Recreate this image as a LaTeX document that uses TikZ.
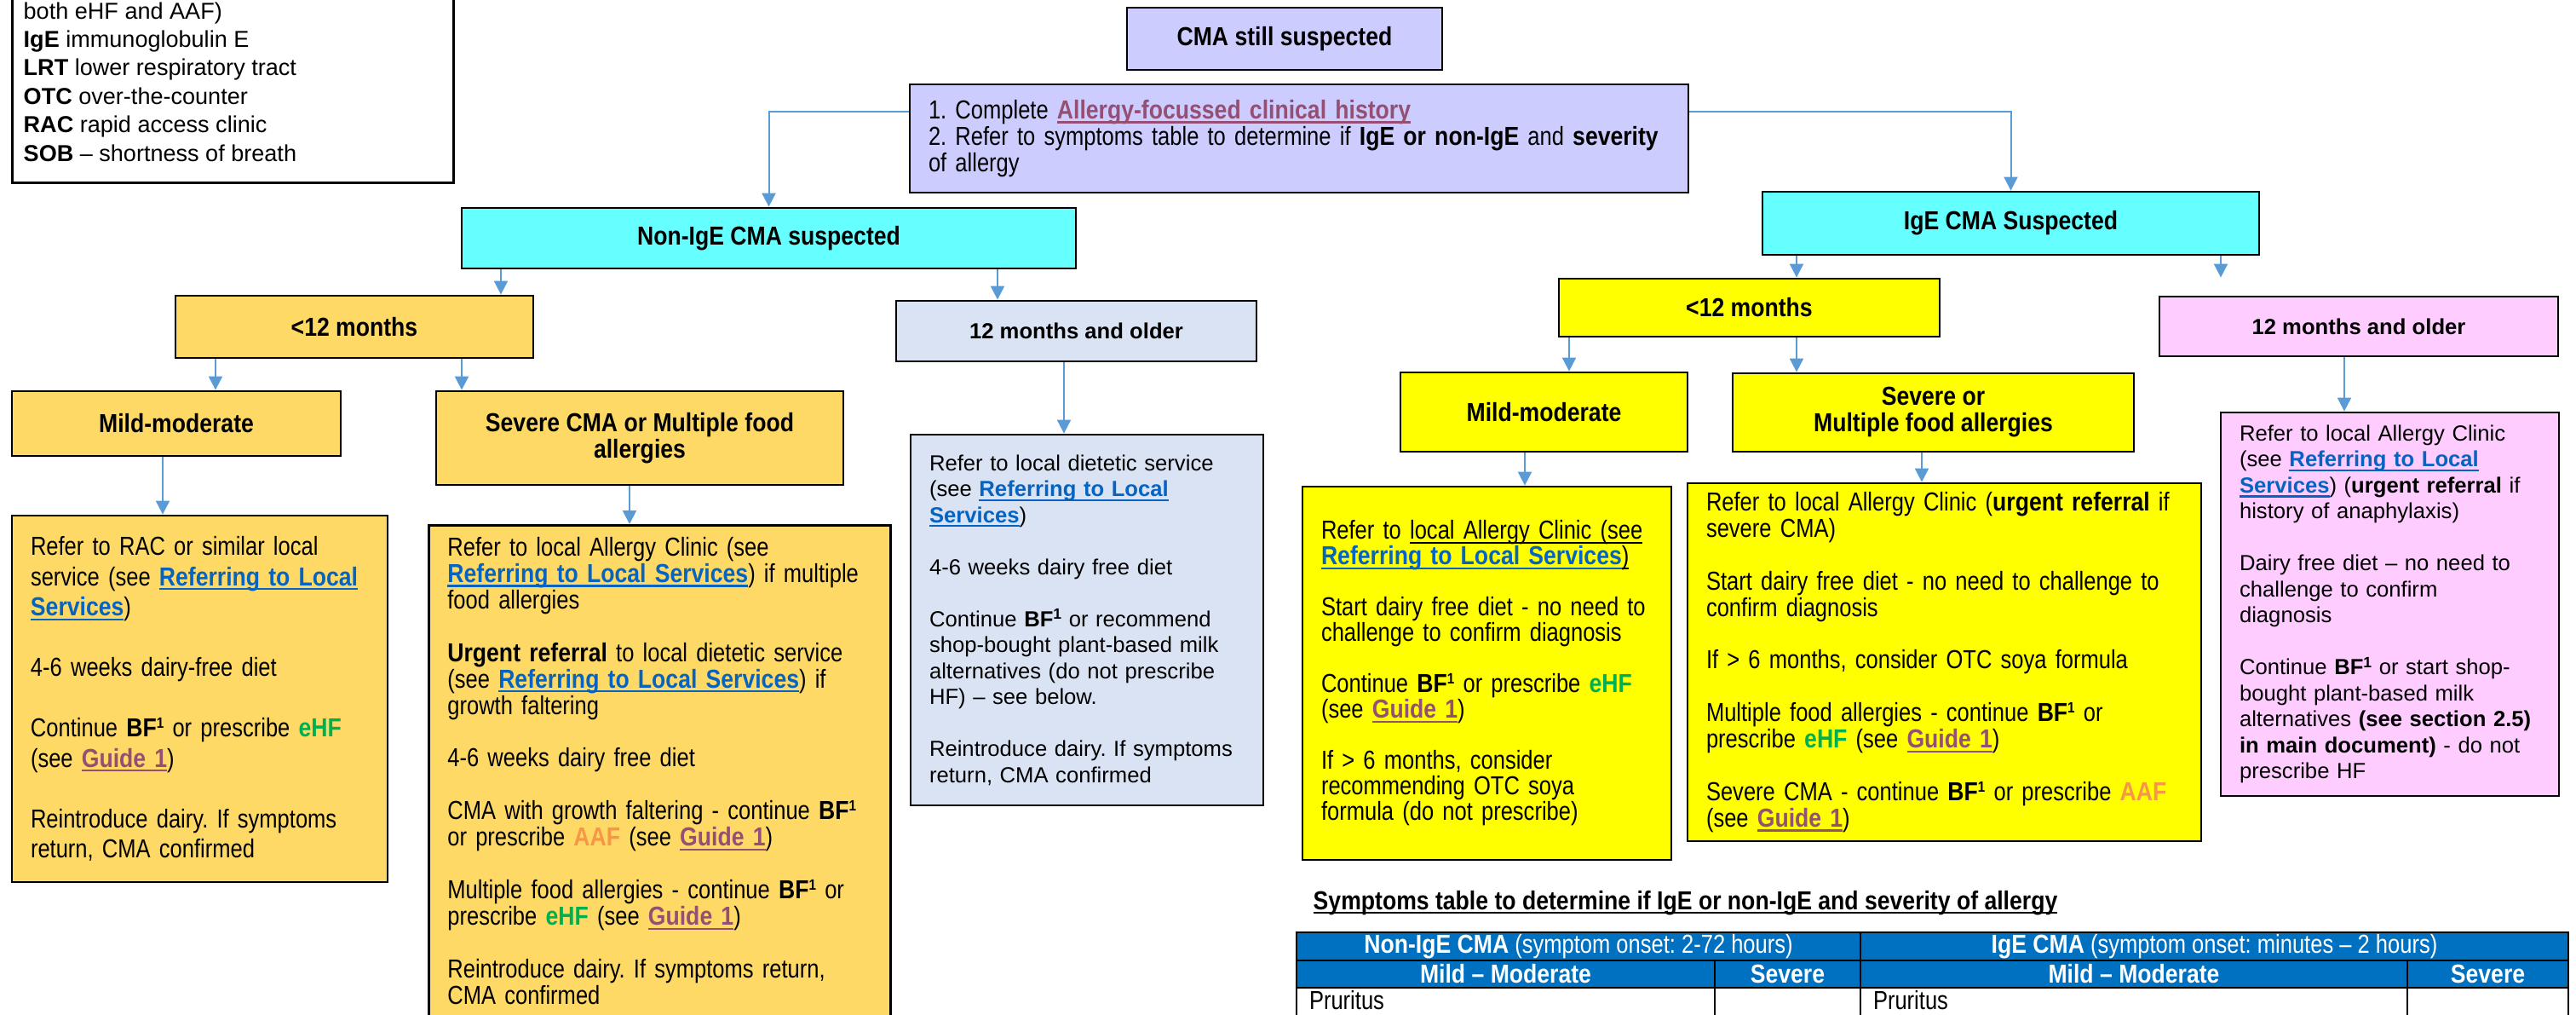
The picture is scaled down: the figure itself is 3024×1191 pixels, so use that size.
\documentclass[tikz,border=0pt]{standalone}
\usepackage{fontspec}
\setmainfont{Liberation Sans}
\newfontfamily\narrowfont{Liberation Sans}[FakeStretch=0.835, BoldFeatures={FakeStretch=0.87}]
\usetikzlibrary{positioning,calc,arrows.meta}

\definecolor{lav}{HTML}{CCCCFF}
\definecolor{aqua}{HTML}{66FFFF}
\definecolor{gold}{HTML}{FFD966}
\definecolor{mist}{HTML}{DAE3F3}
\definecolor{lemon}{HTML}{FFFF00}
\definecolor{rose}{HTML}{FFCCFF}
\definecolor{linkblue}{HTML}{0563C1}
\definecolor{guidepurple}{HTML}{954F72}
\definecolor{ehfgreen}{HTML}{00B050}
\definecolor{aaforange}{HTML}{F79646}
\definecolor{arrowblue}{HTML}{5B9BD5}
\definecolor{tblue}{HTML}{0070C0}

% fonts
\newcommand{\nhead}{\narrowfont\bfseries\fontsize{8.7pt}{8.8pt}\selectfont}
\newcommand{\whead}{\bfseries\fontsize{7.3pt}{8.7pt}\selectfont}
\newcommand{\ntext}[1]{\narrowfont\fontsize{8.7pt}{#1}\selectfont}
\newcommand{\wtext}{\fontsize{7.3pt}{8.68pt}\selectfont}
\newcommand{\skipline}{\\[\baselineskip]}

% underline and coloured words
\newsavebox{\ulbox}
\newcommand{\ulc}[1]{\leavevmode\sbox{\ulbox}{#1}\rlap{\rule[-1.5pt]{\wd\ulbox}{0.65pt}}\usebox{\ulbox}}
\newcommand{\reflink}[1]{{\color{linkblue}\bfseries\ulc{#1}}}
\newcommand{\guide}{{\color{guidepurple}\bfseries\ulc{Guide 1}}}
\newcommand{\ehf}{{\color{ehfgreen}\bfseries eHF}}
\newcommand{\aaf}{{\color{aaforange}\bfseries AAF}}
\newcommand{\bfone}{\textbf{BF}\smash{\raisebox{0.62ex}{\fontsize{5pt}{5pt}\selectfont\bfseries 1}}}

\begin{document}
\frenchspacing
\begin{tikzpicture}[x=0.1mm,y=-0.1mm,
    box/.style={draw=black, line width=0.28mm, inner sep=0pt},
    headbox/.style={box, font=\nhead, align=center},
    wideheadbox/.style={box, font=\whead, align=center},
    textbox/.style={box, align=left, execute at begin node={\leftskip=2.2mm\hyphenpenalty=10000\exhyphenpenalty=10000\lineskiplimit=-5pt\relax}},
    thead/.style={draw=black, line width=0.2mm, fill=tblue, text=white, inner sep=0pt, anchor=north west, font=\ntext{9pt}},
    tcell/.style={draw=black, line width=0.2mm, inner xsep=1.5mm, inner ysep=0.4mm, anchor=north west, align=left, text height=2.1mm, text depth=10mm, font=\ntext{9pt}},
    conn/.style={arrowblue, line width=0.2mm, -{Triangle[width=1.6mm,length=1.6mm]}}]

\useasboundingbox (0,0) rectangle (3024,1191);

% legend
\node[box, fill=white, anchor=south west, minimum width=51.8mm, minimum height=32mm] (legend) at (13,216) {};
\node[anchor=south west, inner sep=0pt, align=left, font=\fontsize{7.7pt}{9.5pt}\selectfont] (legendtext) at (27,190)
    {both eHF and AAF)\\ \textbf{IgE} immunoglobulin E\\ \textbf{LRT} lower respiratory tract\\
     \textbf{OTC} over-the-counter\\ \textbf{RAC} rapid access clinic\\ \textbf{SOB} – shortness of breath};

% top of the chart
\node[headbox, fill=lav, minimum width=37mm, minimum height=7.3mm] (suspect) at (1508,45.5) {CMA still suspected};
\node[textbox, fill=lav, minimum height=12.7mm, text width=91.4mm, font=\ntext{8.8pt}] (history) at (1525,162.5)
    {1. Complete {\color{guidepurple}\bfseries\ulc{Allergy-focussed clinical history}}\\
     2. Refer to symptoms table to determine if \textbf{IgE or non-IgE} and \textbf{severity}\\
     of allergy};

% non-IgE branch
\node[headbox, fill=aqua, minimum width=72.1mm, minimum height=7.1mm] (nonige) at (902.5,279.5) {Non-IgE CMA suspected};
\node[headbox, fill=gold, minimum width=42mm, minimum height=7.3mm] (lt12n) at (416,383.5) {<12 months};
\node[wideheadbox, fill=mist, minimum width=42.3mm, minimum height=7.1mm] (old12n) at (1263.5,388.5) {12 months and older};
\node[headbox, fill=gold, minimum width=38.6mm, minimum height=7.6mm] (mildn) at (207,497) {Mild-moderate};
\node[headbox, fill=gold, minimum width=47.8mm, minimum height=11mm] (sevn) at (751,514) {Severe CMA or Multiple food\\allergies};

\node[textbox, fill=gold, minimum height=43mm, text width=44.1mm, font=\ntext{10.1pt}] (mildntxt) at (234.5,820)
    {Refer to RAC or similar local\\
     service (see \reflink{Referring to Local}\\
     \reflink{Services})\skipline
     4-6 weeks dairy-free diet\skipline
     Continue \bfone{} or prescribe \ehf\\
     (see \guide)\skipline
     Reintroduce dairy. If symptoms\\
     return, CMA confirmed};
\node[textbox, fill=gold, anchor=north west, text width=54.2mm, inner ysep=1.4mm, text depth=65mm, font=\ntext{8.8pt}] (sevntxt) at (502,615)
    {Refer to local Allergy Clinic (see\\
     \reflink{Referring to Local Services}) if multiple\\
     food allergies\skipline
     \textbf{Urgent referral} to local dietetic service\\
     (see \reflink{Referring to Local Services}) if\\
     growth faltering\skipline
     4-6 weeks dairy free diet\skipline
     CMA with growth faltering - continue \bfone\\
     or prescribe \aaf{} (see \guide)\skipline
     Multiple food allergies - continue \bfone{} or\\
     prescribe \ehf{} (see \guide)\skipline
     Reintroduce dairy. If symptoms return,\\
     CMA confirmed};
\node[textbox, fill=mist, minimum height=43.5mm, text width=41.4mm, font=\wtext] (old12ntxt) at (1276,727.5)
    {Refer to local dietetic service\\
     (see \reflink{Referring to Local}\\
     \reflink{Services})\skipline
     4-6 weeks dairy free diet\skipline
     Continue \bfone{} or recommend\\
     shop-bought plant-based milk\\
     alternatives (do not prescribe\\
     HF) – see below.\skipline
     Reintroduce dairy. If symptoms\\
     return, CMA confirmed};

% IgE branch
\node[headbox, fill=aqua, minimum width=58.3mm, minimum height=7.4mm] (ige) at (2360.5,262) {IgE CMA Suspected};
\node[headbox, fill=lemon, minimum width=44.7mm, minimum height=6.8mm] (lt12i) at (2053.5,361) {<12 months};
\node[wideheadbox, fill=rose, minimum width=46.8mm, minimum height=7mm] (old12i) at (2769,383) {12 months and older};
\node[headbox, fill=lemon, minimum width=33.7mm, minimum height=9.3mm] (mildi) at (1812.5,483.5) {Mild-moderate};
\node[headbox, fill=lemon, minimum width=47.1mm, minimum height=9.2mm] (sevi) at (2269.5,484) {Severe or\\Multiple food allergies};

\node[textbox, fill=lemon, minimum height=43.8mm, text width=43.3mm, font=\ntext{8.54pt}] (mildtxti) at (1745.5,790)
    {Refer to \ulc{local Allergy Clinic (see}\\
     \reflink{Referring to Local Services}\ulc{)}\skipline
     Start dairy free diet - no need to\\
     challenge to confirm diagnosis\skipline
     Continue \bfone{} or prescribe \ehf\\
     (see \guide)\skipline
     If > 6 months, consider\\
     recommending OTC soya\\
     formula (do not prescribe)};
\node[textbox, fill=lemon, minimum height=42mm, text width=60.3mm, font=\ntext{8.8pt}] (sevtxti) at (2282.5,777)
    {Refer to local Allergy Clinic (\textbf{urgent referral} if\\
     severe CMA)\skipline
     Start dairy free diet - no need to challenge to\\
     confirm diagnosis\skipline
     If > 6 months, consider OTC soya formula\skipline
     Multiple food allergies - continue \bfone{} or\\
     prescribe \ehf{} (see \guide)\skipline
     Severe CMA - continue \bfone{} or prescribe \aaf\\
     (see \guide)};
\node[textbox, fill=rose, minimum height=45mm, text width=39.7mm, font=\wtext] (old12itxt) at (2805.5,709)
    {Refer to local Allergy Clinic\\
     (see \reflink{Referring to Local}\\
     \reflink{Services}) (\textbf{urgent referral} if\\
     history of anaphylaxis)\skipline
     Dairy free diet – no need to\\
     challenge to confirm\\
     diagnosis\skipline
     Continue \bfone{} or start shop-\\
     bought plant-based milk\\
     alternatives \textbf{(see section 2.5)}\\
     \textbf{in main document)} - do not\\
     prescribe HF};

% connectors
\draw[conn] ($(history.west)+(0,-31.5)$) -| (nonige);
\draw[conn] ($(history.east)+(0,-31.5)$) -| (ige);
\draw[conn] (nonige.south -| 588,0) -- (lt12n.north -| 588,0);
\draw[conn] (nonige.south -| 1171,0) -- (old12n.north -| 1171,0);
\draw[conn] (lt12n.south -| 253,0) -- (mildn.north -| 253,0);
\draw[conn] (lt12n.south -| 542,0) -- (sevn.north -| 542,0);
\draw[conn] (mildn.south -| 191,0) -- (mildntxt.north -| 191,0);
\draw[conn] (sevn.south -| 739,0) -- (sevntxt.north -| 739,0);
\draw[conn] (old12n.south -| 1249,0) -- (old12ntxt.north -| 1249,0);
\draw[conn] (ige.south -| 2109,0) -- (lt12i.north -| 2109,0);
\draw[conn, shorten >=2.1mm] (ige.south -| 2607,0) -- (old12i.north -| 2607,0);
\draw[conn] (lt12i.south -| 1842,0) -- (mildi.north -| 1842,0);
\draw[conn] (lt12i.south -| 2109,0) -- (sevi.north -| 2109,0);
\draw[conn] (mildi.south -| 1790,0) -- (mildtxti.north -| 1790,0);
\draw[conn] (sevi.south -| 2256,0) -- (sevtxti.north -| 2256,0);
\draw[conn] (old12i.south -| 2752,0) -- (old12itxt.north -| 2752,0);

% symptoms table
\node[font=\nhead, anchor=base west, inner sep=0pt] (tabletitle) at (1541,1067)
    {\ulc{Symptoms table to determine if IgE or non-IgE and severity of allergy}};
\node[thead, minimum width=66.2mm, minimum height=3.3mm] (th1) at (1521,1093) {\textbf{Non-IgE CMA} (symptom onset: 2-72 hours)};
\node[thead, minimum width=83.1mm, minimum height=3.3mm] (th2) at (2183,1093) {\textbf{IgE CMA} (symptom onset: minutes – 2 hours)};
\node[thead, font=\nhead, minimum width=49.1mm, minimum height=3.2mm] (tm1) at (1521,1126) {Mild – Moderate};
\node[thead, font=\nhead, minimum width=17.1mm, minimum height=3.2mm] (ts1) at (2012,1126) {Severe};
\node[thead, font=\nhead, minimum width=64.2mm, minimum height=3.2mm] (tm2) at (2183,1126) {Mild – Moderate};
\node[thead, font=\nhead, minimum width=18.9mm, minimum height=3.2mm] (ts2) at (2825,1126) {Severe};
\node[tcell, text width=46.1mm] (td1) at (1521,1158) {Pruritus};
\node[tcell, text width=14.1mm] (td2) at (2012,1158) {};
\node[tcell, text width=61.2mm] (td3) at (2183,1158) {Pruritus};
\node[tcell, text width=15.9mm] (td4) at (2825,1158) {};

\end{tikzpicture}
\end{document}
